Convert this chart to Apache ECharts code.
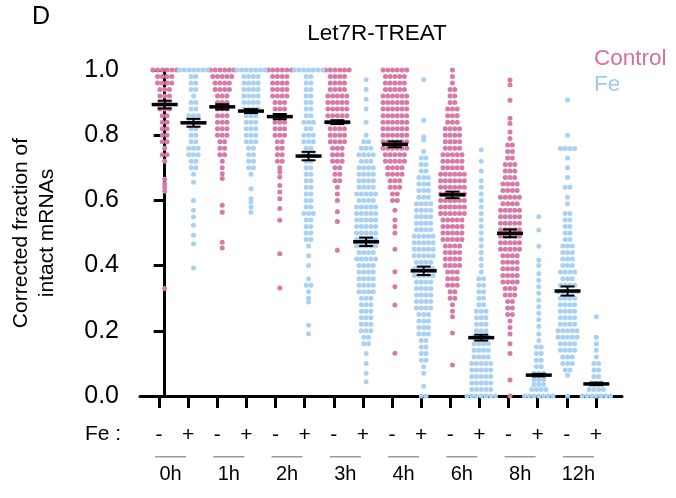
<!DOCTYPE html>
<html>
<head>
<meta charset="utf-8">
<script src="https://cdn.jsdelivr.net/npm/echarts@6/dist/echarts.min.js"></script>
<style>html,body{margin:0;padding:0;background:#fff}#c{width:676px;height:498px}</style>
</head>
<body>
<div id="c"></div>
<script>
// ---------- DATA ----------
const timePoints = ['0h', '1h', '2h', '3h', '4h', '6h', '8h', '12h'];
const feSigns = ['-', '+'];
const yTicks = [0, 0.2, 0.4, 0.6, 0.8, 1.0];

// mean and SEM of each group, order: 0h-,0h+,1h-,1h+,...,12h-,12h+
const groupMeans = [0.894, 0.838, 0.887, 0.874, 0.857, 0.736, 0.840, 0.473, 0.772, 0.384, 0.617, 0.179, 0.499, 0.064, 0.322, 0.037];
const groupSems  = [0.012, 0.012, 0.008, 0.006, 0.008, 0.013, 0.006, 0.013, 0.009, 0.013, 0.010, 0.009, 0.012, 0.004, 0.014, 0.004];

// individual points as [value, number of dots at that value]
const ctl_0h = [[1.00,6],[0.98,4],[0.96,4],[0.94,3],[0.92,3],[0.90,3],[0.88,3],[0.86,2],[0.84,2],[0.82,2],[0.80,2],[0.78,2],[0.76,1],[0.74,2],[0.72,1],[0.665,1],[0.65,1],[0.64,1],[0.628,1],[0.33,1]];
const fe_0h  = [[1.00,7],[0.98,2],[0.96,2],[0.94,2],[0.92,1],[0.90,2],[0.88,2],[0.86,3],[0.84,3],[0.82,2],[0.80,2],[0.78,2],[0.76,3],[0.74,3],[0.72,2],[0.70,2],[0.68,1],[0.656,1],[0.60,1],[0.57,1],[0.549,1],[0.524,1],[0.493,1],[0.467,1],[0.393,1]];
const ctl_1h = [[1.00,6],[0.98,5],[0.96,4],[0.94,4],[0.92,3],[0.90,3],[0.88,3],[0.86,3],[0.84,3],[0.82,3],[0.80,3],[0.78,2],[0.76,2],[0.74,2],[0.72,1],[0.70,1],[0.682,1],[0.667,1],[0.585,1],[0.564,1],[0.472,1],[0.454,1]];
const fe_1h  = [[1.00,7],[0.98,4],[0.96,4],[0.94,4],[0.92,4],[0.90,4],[0.88,4],[0.86,3],[0.84,3],[0.82,3],[0.80,3],[0.78,3],[0.76,2],[0.74,2],[0.72,2],[0.70,2],[0.68,1],[0.636,1],[0.605,1],[0.595,1],[0.58,1],[0.564,1]];
const ctl_2h = [[1.00,6],[0.98,4],[0.96,4],[0.94,4],[0.92,4],[0.90,3],[0.88,3],[0.86,3],[0.84,3],[0.82,3],[0.80,3],[0.78,2],[0.76,2],[0.74,2],[0.72,2],[0.70,1],[0.687,1],[0.672,1],[0.646,1],[0.626,1],[0.605,1],[0.575,1],[0.539,1],[0.436,1],[0.331,1]];
const fe_2h  = [[1.00,7],[0.98,2],[0.96,2],[0.94,2],[0.92,2],[0.90,2],[0.88,2],[0.86,2],[0.84,3],[0.82,2],[0.80,3],[0.78,3],[0.76,2],[0.74,3],[0.72,2],[0.70,2],[0.68,2],[0.66,2],[0.64,2],[0.62,2],[0.60,2],[0.58,2],[0.56,3],[0.54,2],[0.52,2],[0.50,2],[0.48,2],[0.46,1],[0.43,1],[0.40,1],[0.36,1],[0.34,2],[0.32,1],[0.30,1],[0.288,1],[0.217,1],[0.191,1]];
const ctl_3h = [[1.00,6],[0.98,4],[0.96,4],[0.94,4],[0.92,5],[0.90,5],[0.88,5],[0.86,5],[0.84,5],[0.82,4],[0.80,4],[0.78,4],[0.76,3],[0.74,3],[0.72,3],[0.70,2],[0.68,2],[0.66,2],[0.64,1],[0.62,1],[0.60,1],[0.565,1],[0.535,1],[0.447,1]];
const fe_3h  = [[0.97,1],[0.94,1],[0.91,1],[0.88,1],[0.84,1],[0.80,1],[0.78,2],[0.76,3],[0.74,4],[0.72,3],[0.70,4],[0.68,4],[0.66,4],[0.64,4],[0.62,5],[0.60,4],[0.58,5],[0.56,5],[0.54,5],[0.52,5],[0.50,5],[0.48,5],[0.46,5],[0.44,4],[0.42,5],[0.40,4],[0.38,4],[0.36,4],[0.34,4],[0.32,4],[0.30,3],[0.28,3],[0.26,3],[0.24,3],[0.22,3],[0.20,3],[0.18,2],[0.16,2],[0.13,1],[0.10,1],[0.07,1],[0.044,1]];
const ctl_4h = [[1.00,6],[0.98,5],[0.96,5],[0.94,5],[0.92,6],[0.90,6],[0.88,6],[0.86,6],[0.84,6],[0.82,6],[0.80,6],[0.78,6],[0.76,6],[0.74,5],[0.72,5],[0.70,4],[0.68,4],[0.66,3],[0.64,3],[0.62,2],[0.60,2],[0.57,1],[0.54,1],[0.52,1],[0.50,1],[0.45,1],[0.381,1],[0.335,1],[0.279,1],[0.131,1]];
const fe_4h  = [[0.97,1],[0.846,1],[0.795,1],[0.785,1],[0.75,1],[0.73,2],[0.71,2],[0.69,2],[0.67,3],[0.65,3],[0.63,3],[0.61,3],[0.59,4],[0.57,4],[0.55,4],[0.53,4],[0.51,4],[0.49,5],[0.47,5],[0.45,5],[0.43,5],[0.41,4],[0.39,5],[0.37,5],[0.35,4],[0.33,4],[0.31,4],[0.29,4],[0.27,4],[0.25,3],[0.23,3],[0.21,3],[0.19,3],[0.17,2],[0.15,2],[0.13,2],[0.11,2],[0.09,1],[0.07,1],[0.03,1],[0.00,2]];
const ctl_6h = [[1.00,1],[0.98,1],[0.96,1],[0.94,2],[0.92,2],[0.90,2],[0.88,3],[0.86,3],[0.84,3],[0.82,4],[0.80,4],[0.78,4],[0.76,4],[0.74,5],[0.72,5],[0.70,5],[0.68,6],[0.66,6],[0.64,6],[0.62,6],[0.60,6],[0.58,6],[0.56,6],[0.54,5],[0.52,5],[0.50,5],[0.48,5],[0.46,4],[0.44,4],[0.42,4],[0.40,4],[0.38,3],[0.36,3],[0.34,3],[0.32,2],[0.30,2],[0.28,1],[0.26,1],[0.243,1],[0.193,1],[0.095,1]];
const fe_6h  = [[0.755,1],[0.72,1],[0.69,1],[0.66,1],[0.64,1],[0.62,1],[0.60,1],[0.58,1],[0.56,1],[0.54,1],[0.52,1],[0.50,1],[0.48,1],[0.46,1],[0.44,1],[0.42,1],[0.40,1],[0.38,1],[0.36,2],[0.34,2],[0.32,2],[0.30,2],[0.28,2],[0.26,3],[0.24,3],[0.22,3],[0.20,3],[0.18,4],[0.16,4],[0.14,4],[0.12,4],[0.10,5],[0.08,5],[0.06,5],[0.04,5],[0.02,5],[0.00,7]];
const ctl_8h = [[0.969,1],[0.955,1],[0.907,1],[0.852,1],[0.836,1],[0.81,1],[0.79,1],[0.77,2],[0.75,2],[0.73,2],[0.71,3],[0.69,3],[0.67,3],[0.65,4],[0.63,4],[0.61,5],[0.59,4],[0.57,5],[0.55,5],[0.53,5],[0.51,5],[0.49,5],[0.47,5],[0.45,5],[0.43,4],[0.41,4],[0.39,4],[0.37,4],[0.35,4],[0.33,3],[0.31,3],[0.29,2],[0.27,2],[0.25,2],[0.23,1],[0.21,1],[0.19,1],[0.16,1],[0.13,1],[0.049,1],[0.00,1]];
const fe_8h  = [[0.55,1],[0.509,1],[0.459,1],[0.417,1],[0.40,1],[0.376,1],[0.355,1],[0.335,1],[0.315,1],[0.294,1],[0.274,1],[0.254,1],[0.234,1],[0.213,1],[0.19,1],[0.17,1],[0.15,2],[0.13,2],[0.11,2],[0.09,2],[0.07,3],[0.05,3],[0.035,3],[0.02,4],[0.00,7]];
const ctl_12h = [[0.908,1],[0.80,1],[0.759,4],[0.73,1],[0.70,1],[0.67,1],[0.64,2],[0.61,1],[0.59,1],[0.56,2],[0.54,2],[0.52,2],[0.50,2],[0.48,2],[0.46,3],[0.44,3],[0.42,3],[0.40,3],[0.38,4],[0.36,3],[0.34,4],[0.32,5],[0.30,4],[0.28,4],[0.26,4],[0.24,4],[0.22,4],[0.20,5],[0.18,5],[0.16,4],[0.14,4],[0.12,3],[0.10,3],[0.08,2],[0.064,1],[0.00,1]];
const fe_12h = [[0.243,1],[0.18,1],[0.16,1],[0.14,1],[0.12,1],[0.10,2],[0.08,2],[0.06,2],[0.04,3],[0.02,4],[0.00,7]];

// ---------- BUILD ----------
const groups = [ctl_0h, fe_0h, ctl_1h, fe_1h, ctl_2h, fe_2h, ctl_3h, fe_3h, ctl_4h, fe_4h, ctl_6h, fe_6h, ctl_8h, fe_8h, ctl_12h, fe_12h];
const PINK = '#d97aa6', BLUE = '#a8d1f5';
const PINK_TXT = '#d4709c', BLUE_TXT = '#9fc9ee';
const DOT_STEP = 0.165; // horizontal spacing of dots in a row (x units)

function swarm(gi) {
  const out = [];
  groups[gi].forEach(([v, n]) => {
    for (let i = 0; i < n; i++) out.push([gi + (i - (n - 1) / 2) * DOT_STEP, v]);
  });
  return out;
}
const controlPts = [], fePts = [];
groups.forEach((g, gi) => {
  const pts = swarm(gi);
  if (gi % 2 === 0) {
    // the 12h control group is drawn in light blue in the original figure
    const blue = timePoints[gi / 2] === '12h';
    pts.forEach(p => controlPts.push(blue ? { value: p, itemStyle: { color: BLUE } } : p));
  } else {
    pts.forEach(p => fePts.push(p));
  }
});
const meanData = groupMeans.map((m, i) => [i, m, groupSems[i]]);
const signCats = [];
timePoints.forEach(() => feSigns.forEach(s => signCats.push(s)));

const FONT = 'Liberation Sans, Arial, Helvetica, sans-serif';
const X_MIN = -0.858, X_MAX = 15.892;

const chart = echarts.init(document.getElementById('c'), null, { renderer: 'canvas' });
chart.setOption({
  animation: false,
  backgroundColor: '#fff',
  textStyle: { fontFamily: FONT },
  title: {
    text: 'Let7R-TREAT', left: 372, top: 17, textAlign: 'center',
    textStyle: { fontSize: 22.5, fontWeight: 'normal', color: '#000', fontFamily: FONT }
  },
  legend: {
    orient: 'vertical', left: 584, top: 42, itemWidth: 0, itemHeight: 0, itemGap: 3,
    selectedMode: false,
    data: [
      { name: 'Control', textStyle: { color: PINK_TXT } },
      { name: 'Fe', textStyle: { color: BLUE_TXT } }
    ],
    textStyle: { fontSize: 22.5, fontFamily: FONT }
  },
  graphic: [
    { type: 'text', left: 32, top: 5, style: { text: 'D', font: '25px ' + FONT, fill: '#000' } },
    { type: 'text', left: 85, top: 424, style: { text: 'Fe :', font: '21px ' + FONT, fill: '#000' } }
  ],
  grid: [
    { left: 134, right: 54, top: 70, bottom: 102 },
    { left: 144.43, right: 65.43, top: 70, bottom: 102 },
    { left: 141.4, right: 68.46, top: 70, bottom: 102 }
  ],
  xAxis: [
    { type: 'value', gridIndex: 0, min: X_MIN, max: X_MAX,
      axisLine: { show: true, lineStyle: { color: '#000', width: 3 } },
      axisTick: { show: false }, axisLabel: { show: false }, splitLine: { show: false } },
    { type: 'category', gridIndex: 1, data: signCats, boundaryGap: true,
      axisLine: { show: false },
      axisTick: { show: true, alignWithLabel: true, length: 12, lineStyle: { color: '#000', width: 3 } },
      axisLabel: { show: true, interval: 0, margin: 29, fontSize: 21, color: '#000', fontFamily: FONT },
      splitLine: { show: false } },
    { type: 'category', gridIndex: 2, data: timePoints, boundaryGap: true,
      axisLine: { show: false }, axisTick: { show: false },
      axisLabel: {
        show: true, interval: 0, margin: 60, color: '#000',
        formatter: v => '{l| }\n{t|' + v + '}',
        rich: {
          l: { width: 31, height: 1.5, lineHeight: 1.5, fontSize: 1, backgroundColor: '#9a9a9a' },
          t: { fontSize: 20, lineHeight: 34, fontFamily: FONT, color: '#000' }
        }
      },
      splitLine: { show: false } }
  ],
  yAxis: [
    { type: 'value', gridIndex: 0, min: 0, max: 1, interval: 0.2,
      axisLine: { show: true, lineStyle: { color: '#000', width: 3 } },
      axisTick: { show: true, length: 11, lineStyle: { color: '#000', width: 3 } },
      axisLabel: { margin: 21, fontSize: 25, color: '#000', fontFamily: FONT,
        customValues: yTicks, formatter: v => v.toFixed(1) },
      splitLine: { show: false },
      name: 'Corrected fraction of\nintact mRNAs', nameLocation: 'middle', nameGap: 80,
      nameTextStyle: { fontSize: 21, lineHeight: 26, color: '#000', fontFamily: FONT } },
    { type: 'value', gridIndex: 1, min: 0, max: 1, show: false },
    { type: 'value', gridIndex: 2, min: 0, max: 1, show: false }
  ],
  series: [
    { name: 'Control', type: 'scatter', xAxisIndex: 0, yAxisIndex: 0, data: controlPts,
      symbolSize: 5, itemStyle: { color: PINK, opacity: 1 }, clip: false, silent: true, z: 3 },
    { name: 'Fe', type: 'scatter', xAxisIndex: 0, yAxisIndex: 0, data: fePts,
      symbolSize: 5, itemStyle: { color: BLUE, opacity: 1 }, clip: false, silent: true, z: 3 },
    { name: 'mean', type: 'custom', xAxisIndex: 0, yAxisIndex: 0, data: meanData, clip: false, z: 5, silent: true,
      renderItem: (params, api) => {
        const x = api.value(0), m = api.value(1), s = api.value(2);
        const c = api.coord([x, m]), hi = api.coord([x, m + s]), lo = api.coord([x, m - s]);
        const st = { stroke: '#000', lineWidth: 2 };
        return { type: 'group', children: [
          { type: 'line', shape: { x1: c[0] - 13, y1: c[1], x2: c[0] + 13, y2: c[1] }, style: { stroke: '#000', lineWidth: 3.5 } },
          { type: 'line', shape: { x1: c[0], y1: hi[1], x2: c[0], y2: lo[1] }, style: st },
          { type: 'line', shape: { x1: c[0] - 7, y1: hi[1], x2: c[0] + 7, y2: hi[1] }, style: st },
          { type: 'line', shape: { x1: c[0] - 7, y1: lo[1], x2: c[0] + 7, y2: lo[1] }, style: st }
        ] };
      } }
  ]
});
</script>
</body>
</html>
